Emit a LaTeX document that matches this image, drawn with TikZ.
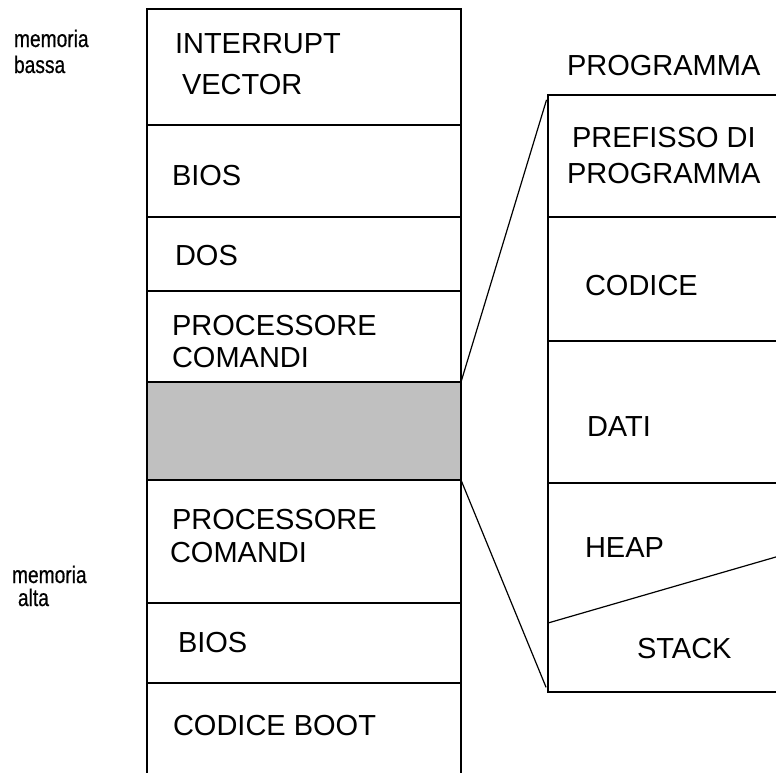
\documentclass[tikz,border=0pt]{standalone}
\usepackage{fontspec}
\setmainfont{Liberation Sans}
\newfontfamily\narrowfont[FakeStretch=0.8, FakeBold=0.6]{Liberation Sans}
\usetikzlibrary{positioning}
\definecolor{freegray}{RGB}{192,192,192}

\begin{document}
\begin{tikzpicture}[x=1pt, y=-1pt, line width=1.2pt,
    every node/.style={inner sep=0pt, outer sep=0pt},
    seg/.style={draw, rectangle, minimum width=314pt, anchor=north},
    part/.style={draw, rectangle, minimum width=260pt, anchor=north},
    lbl/.style={anchor=base west, font=\fontsize{29}{32}\selectfont},
    side/.style={anchor=base west, align=left, font=\narrowfont\fontsize{24}{24}\selectfont}]
    \useasboundingbox (0,0) rectangle (776,772);

    % Memory map
    \node[seg, minimum height=116pt] (ivt) at (304,9) {};
    \node[seg, minimum height=92pt, below=0pt of ivt] (bios1) {};
    \node[seg, minimum height=74pt, below=0pt of bios1] (dos) {};
    \node[seg, minimum height=91pt, below=0pt of dos] (cmd1) {};
    \node[seg, minimum height=98pt, below=0pt of cmd1, fill=freegray, line width=2.4pt] (free) {};
    \node[seg, minimum height=123pt, below=0pt of free] (cmd2) {};
    \node[seg, minimum height=80pt, below=0pt of cmd2] (bios2) {};
    \node[seg, minimum height=100pt, below=0pt of bios2] (boot) {};

    \node[lbl] (ivtA) at (175,53) {INTERRUPT};
    \node[lbl] (ivtB) at (182,94) {VECTOR};
    \node[lbl] (biosA) at (172,185) {BIOS};
    \node[lbl] (dosA) at (175,265) {DOS};
    \node[lbl] (cmdA) at (172,335) {PROCESSORE};
    \node[lbl] (cmdB) at (172,367) {COMANDI};
    \node[lbl] (cmdC) at (172,529) {PROCESSORE};
    \node[lbl] (cmdD) at (170,562) {COMANDI};
    \node[lbl] (biosB) at (178,652) {BIOS};
    \node[lbl] (bootA) at (173,735) {CODICE BOOT};

    % Side notes
    \node[side, font=\narrowfont\fontsize{24}{26}\selectfont] (low) at (14,73) {memoria\\bassa};
    \node[side, font=\narrowfont\fontsize{24}{23}\selectfont] (high) at (12,606) {memoria\\\hspace{6pt}alta};

    % Program layout
    \node[lbl] (prog) at (567,75) {PROGRAMMA};
    \node[part, minimum height=122pt] (pref) at (678,95) {};
    \node[part, minimum height=124pt, below=0pt of pref] (code) {};
    \node[part, minimum height=142pt, below=0pt of code] (data) {};
    \node[part, minimum height=209pt, below=0pt of data] (stk) {};

    \node[lbl] (prefA) at (572,147) {PREFISSO DI};
    \node[lbl] (prefB) at (567,183) {PROGRAMMA};
    \node[lbl] (codeA) at (585,295) {CODICE};
    \node[lbl] (dataA) at (587,436) {DATI};
    \node[lbl] (heapA) at (585,557) {HEAP};
    \node[lbl] (stkA) at (637,658) {STACK};

    % Heap / stack border
    \coordinate (hs) at (548,623);
    \coordinate (he) at (800,550);
    \draw (hs) -- (he);

    % Zoom lines
    \draw[shorten >=5pt] (free.north east) -- (pref.north west);
    \draw[shorten >=5pt] (free.south east) -- (stk.south west);
\end{tikzpicture}
\end{document}
